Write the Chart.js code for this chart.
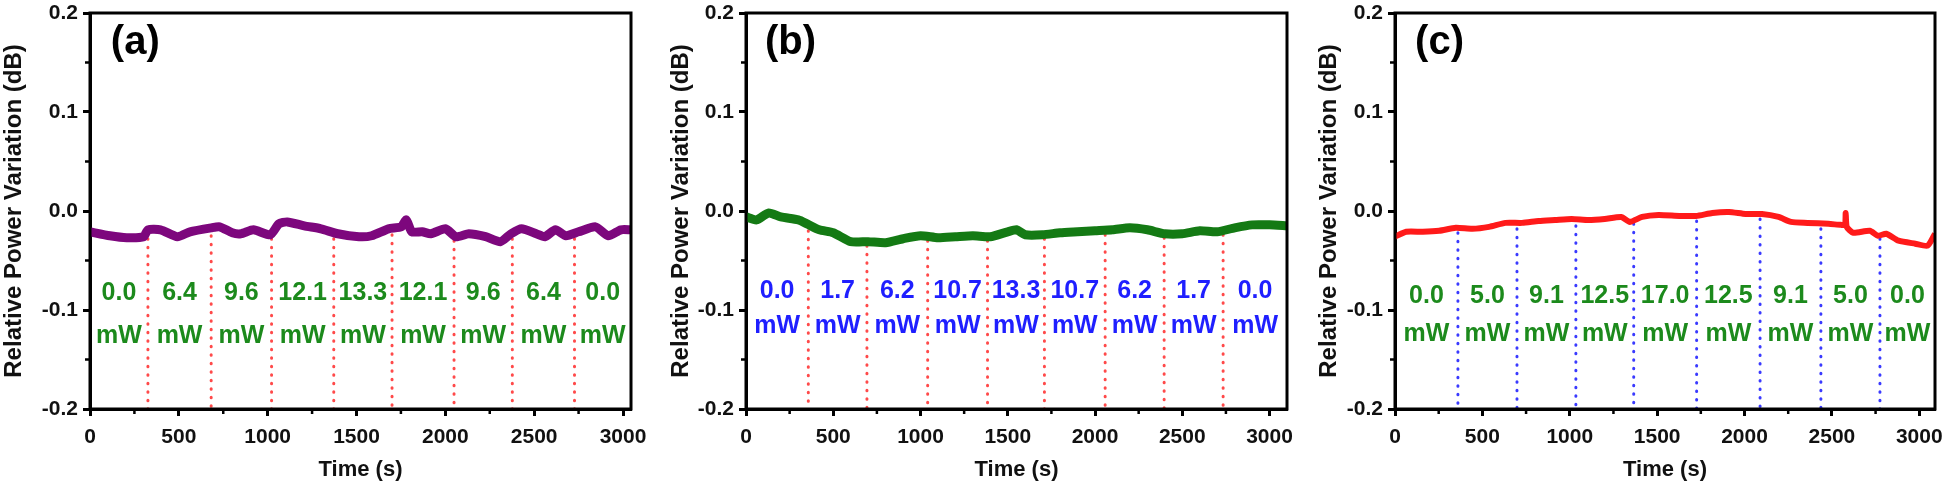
<!DOCTYPE html>
<html>
<head>
  <meta charset="UTF-8">
  <title>Relative Power Variation</title>
  <script src="https://cdn.jsdelivr.net/npm/chart.js"></script>
  <style>
    body { margin: 0; background: #fff; }
    canvas { position: absolute; top: 0; }
  </style>
</head>
<body>
  <canvas id="chartA" width="660" height="489" style="left:0px"></canvas>
  <canvas id="chartB" width="655" height="489" style="left:660px"></canvas>
  <canvas id="chartC" width="631" height="489" style="left:1315px"></canvas>

  <script>
    // axis ticks
    const xMajor = [0, 500, 1000, 1500, 2000, 2500, 3000];
    const xMinor = [250, 750, 1250, 1750, 2250, 2750];
    const yMajor = [-0.2, -0.1, 0, 0.1, 0.2];
    const yMinor = [-0.15, -0.05, 0.05, 0.15];
    const yTickLabels = ['-0.2', '-0.1', '0.0', '0.1', '0.2'];

    // (a)
    const timeA = [0, 112, 207, 302, 326, 397, 492, 563, 682, 730, 801, 849, 920, 1015, 1063, 1110, 1206, 1300, 1395, 1514, 1585, 1680, 1752, 1780, 1811, 1870, 1918, 2001, 2060, 2132, 2227, 2310, 2370, 2429, 2512, 2560, 2620, 2679, 2750, 2845, 2917, 2988, 3045];
    const powerA = [-0.021, -0.025, -0.027, -0.026, -0.019, -0.019, -0.026, -0.021, -0.017, -0.016, -0.022, -0.023, -0.019, -0.024, -0.013, -0.011, -0.015, -0.018, -0.023, -0.026, -0.025, -0.018, -0.016, -0.009, -0.021, -0.021, -0.023, -0.018, -0.026, -0.023, -0.026, -0.031, -0.023, -0.018, -0.023, -0.026, -0.019, -0.025, -0.021, -0.016, -0.025, -0.019, -0.019];
    const dividersA = [326, 682, 1022, 1372, 1700, 2049, 2377, 2727];
    const dividerTopA = [-0.028, -0.025, -0.028, -0.028, -0.024, -0.03, -0.028, -0.028];
    const labelsA = ['0.0', '6.4', '9.6', '12.1', '13.3', '12.1', '9.6', '6.4', '0.0'];

    // (b)
    const timeB = [0, 60, 130, 200, 300, 350, 420, 500, 600, 700, 800, 900, 1000, 1100, 1200, 1300, 1400, 1500, 1550, 1600, 1700, 1800, 1900, 2000, 2100, 2200, 2300, 2400, 2500, 2600, 2700, 2800, 2900, 3000, 3100];
    const powerB = [-0.006, -0.009, -0.002, -0.006, -0.009, -0.013, -0.019, -0.022, -0.031, -0.031, -0.032, -0.028, -0.025, -0.027, -0.026, -0.025, -0.026, -0.021, -0.019, -0.024, -0.024, -0.022, -0.021, -0.02, -0.019, -0.017, -0.019, -0.023, -0.023, -0.02, -0.021, -0.017, -0.014, -0.014, -0.015];
    const dividersB = [357, 693, 1041, 1384, 1710, 2058, 2396, 2734];
    const dividerTopB = [-0.02, -0.035, -0.03, -0.03, -0.028, -0.024, -0.027, -0.024];
    const labelsB = ['0.0', '1.7', '6.2', '10.7', '13.3', '10.7', '6.2', '1.7', '0.0'];

    // (c)
    const timeC = [0, 64, 159, 253, 348, 443, 538, 632, 727, 822, 916, 1011, 1106, 1200, 1295, 1343, 1414, 1508, 1627, 1722, 1816, 1911, 2006, 2100, 2195, 2266, 2361, 2480, 2551, 2575, 2579, 2585, 2622, 2717, 2764, 2811, 2882, 2977, 3048, 3090];
    const powerC = [-0.026, -0.021, -0.021, -0.02, -0.017, -0.018, -0.016, -0.012, -0.012, -0.01, -0.009, -0.008, -0.009, -0.008, -0.006, -0.011, -0.006, -0.004, -0.005, -0.005, -0.002, -0.001, -0.003, -0.003, -0.006, -0.011, -0.012, -0.013, -0.014, -0.014, -0.002, -0.016, -0.022, -0.02, -0.025, -0.023, -0.03, -0.033, -0.035, -0.023];
    const dividersC = [360, 698, 1035, 1366, 1726, 2089, 2437, 2775];
    const dividerTopC = [-0.022, -0.018, -0.015, -0.013, -0.01, -0.008, -0.018, -0.028];
    const labelsC = ['0.0', '5.0', '9.1', '12.5', '17.0', '12.5', '9.1', '5.0', '0.0'];

    const FONT = '"Liberation Sans", Arial, sans-serif';

    function makePanel(id, p) {
      const trace = p.time.map((t, i) => ({ x: t, y: p.power[i] }));
      const marks = [];
      p.dividers.forEach((d, i) => {
        marks.push({ x: d, y: p.dividerTop[i] }, { x: d, y: -0.2 }, { x: d, y: null });
      });
      const bounds = [0, ...p.dividers, p.xMax];

      const deco = {
        id: 'deco',
        afterDatasetsDraw(chart) {
          const { ctx, chartArea: a, scales: { x, y } } = chart;
          ctx.save();
          // power labels
          ctx.fillStyle = p.labelColor;
          ctx.font = 'bold 25px ' + FONT;
          ctx.textAlign = 'center';
          ctx.textBaseline = 'middle';
          p.labels.forEach((s, i) => {
            const cx = x.getPixelForValue((bounds[i] + bounds[i + 1]) / 2);
            ctx.fillText(s, cx, y.getPixelForValue(p.row1));
            ctx.fillText('mW', cx, y.getPixelForValue(p.row2));
          });
          // panel tag
          ctx.fillStyle = '#000';
          ctx.font = 'bold 40px ' + FONT;
          ctx.fillText(p.tag, x.getPixelForValue(255), y.getPixelForValue(0.17));
          // frame
          ctx.strokeStyle = '#000';
          ctx.lineWidth = 3;
          ctx.strokeRect(a.left, a.top, a.right - a.left, a.bottom - a.top);
          // minor ticks
          ctx.lineWidth = 2.5;
          ctx.beginPath();
          xMinor.forEach(v => {
            const px = x.getPixelForValue(v);
            ctx.moveTo(px, a.bottom);
            ctx.lineTo(px, a.bottom + 5);
          });
          yMinor.forEach(v => {
            const py = y.getPixelForValue(v);
            ctx.moveTo(a.left, py);
            ctx.lineTo(a.left - 5, py);
          });
          ctx.stroke();
          ctx.restore();
        }
      };

      new Chart(document.getElementById(id), {
        type: 'line',
        data: {
          datasets: [{
            data: trace,
            borderColor: p.color,
            borderWidth: p.lineWidth,
            pointRadius: 0,
            tension: 0.2
          }, {
            data: marks,
            borderColor: p.dividerColor,
            borderWidth: 3,
            borderDash: [0.5, 8],
            borderCapStyle: 'round',
            pointRadius: 0,
            spanGaps: false
          }]
        },
        options: {
          responsive: false,
          animation: false,
          layout: { padding: { left: 0, right: p.padRight, top: 13, bottom: 0 } },
          plugins: { legend: { display: false }, tooltip: { enabled: false } },
          scales: {
            x: {
              type: 'linear',
              min: 0,
              max: p.xMax,
              afterBuildTicks: s => { s.ticks = xMajor.map(v => ({ value: v })); },
              afterFit: s => { s.height = 80; s.paddingLeft = 0; s.paddingRight = 0; },
              ticks: { color: '#111', font: { family: FONT, size: 21, weight: 'bold' }, padding: 9, maxRotation: 0, autoSkip: false,
                       callback: v => String(v) },
              grid: { drawOnChartArea: false, tickLength: 7, tickWidth: 3, tickColor: '#000' },
              border: { width: 3, color: '#000' },
              title: { display: true, text: 'Time (s)', color: '#111', font: { family: FONT, size: 22, weight: 'bold' }, padding: { top: 0, bottom: 6 } }
            },
            y: {
              min: -0.2,
              max: 0.2,
              afterBuildTicks: s => { s.ticks = yMajor.map(v => ({ value: v })); },
              afterFit: s => { s.width = p.yWidth; s.paddingTop = 0; s.paddingBottom = 0; },
              ticks: { color: '#111', font: { family: FONT, size: 21, weight: 'bold' }, padding: 5, autoSkip: false,
                       callback: (v, i) => yTickLabels[i] },
              grid: { drawOnChartArea: false, tickLength: 7, tickWidth: 3, tickColor: '#000' },
              border: { width: 3, color: '#000' },
              title: { display: true, text: 'Relative Power Variation (dB)', color: '#111', font: { family: FONT, size: 24, weight: 'bold' }, padding: { top: p.titlePad, bottom: 0 } }
            }
          }
        },
        plugins: [deco]
      });
    }

    makePanel('chartA', {
      time: timeA, power: powerA, dividers: dividersA, dividerTop: dividerTopA, labels: labelsA,
      tag: '(a)', color: '#7d077d', lineWidth: 9, dividerColor: '#ff4a4a', labelColor: '#1c8a1c',
      xMax: 3045, yWidth: 90, padRight: 29, titlePad: 0, row1: -0.083, row2: -0.126
    });
    makePanel('chartB', {
      time: timeB, power: powerB, dividers: dividersB, dividerTop: dividerTopB, labels: labelsB,
      tag: '(b)', color: '#147a14', lineWidth: 9, dividerColor: '#ff4a4a', labelColor: '#1f1fff',
      xMax: 3100, yWidth: 86, padRight: 28, titlePad: 7, row1: -0.081, row2: -0.116
    });
    makePanel('chartC', {
      time: timeC, power: powerC, dividers: dividersC, dividerTop: dividerTopC, labels: labelsC,
      tag: '(c)', color: '#ff1a1a', lineWidth: 6, dividerColor: '#3a3aff', labelColor: '#1c8a1c',
      xMax: 3090, yWidth: 80, padRight: 11, titlePad: 0, row1: -0.086, row2: -0.124
    });
  </script>
</body>
</html>
